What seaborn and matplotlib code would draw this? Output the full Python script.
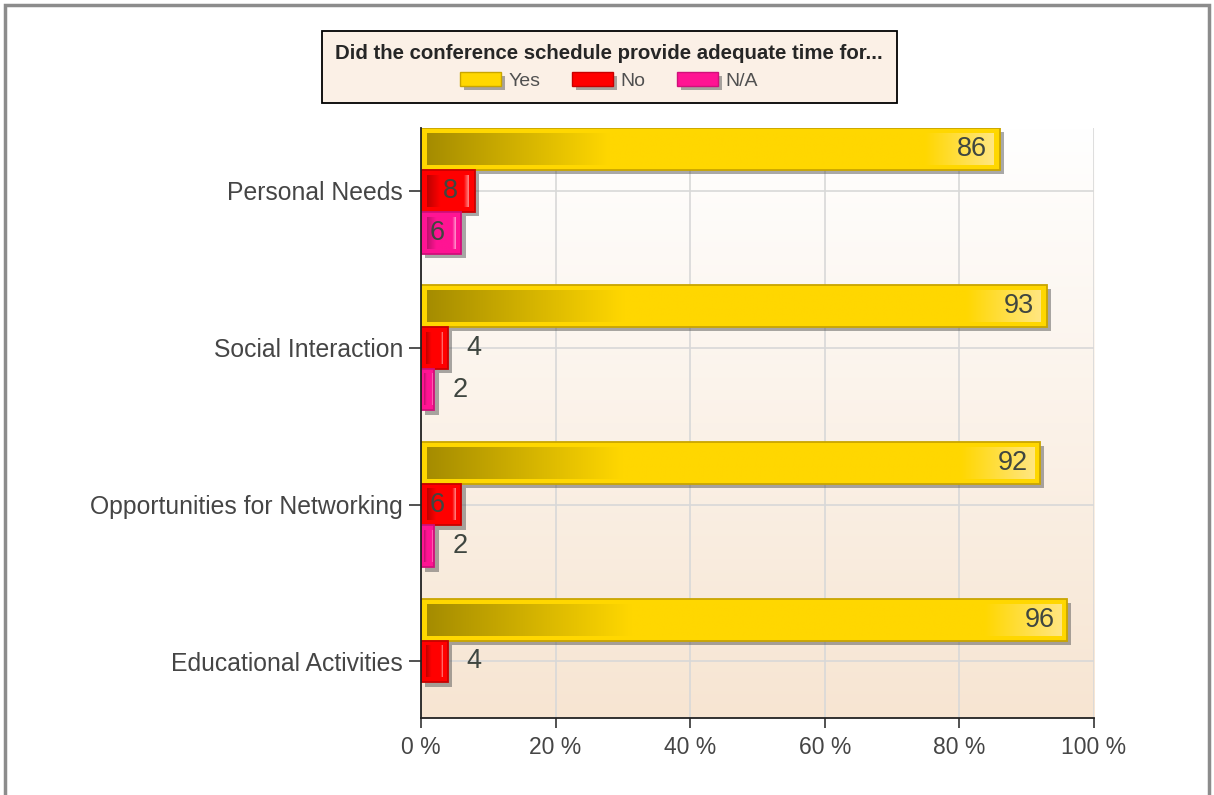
import numpy as np
import pandas as pd
import matplotlib
matplotlib.use("Agg")
import matplotlib.pyplot as plt
import seaborn as sns
from matplotlib import patheffects as pe
from matplotlib.colors import LinearSegmentedColormap
from matplotlib.patches import Rectangle

# ---- data ----
categories = ["Personal Needs", "Social Interaction",
              "Opportunities for Networking", "Educational Activities"]
responses = ["Yes", "No", "N/A"]
yes_values = [86, 93, 92, 96]
no_values = [8, 4, 6, 4]
na_values = [6, 2, 2, 0]
x_ticks = [0, 20, 40, 60, 80, 100]
x_tick_labels = ["0 %", "20 %", "40 %", "60 %", "80 %", "100 %"]
legend_title = "Did the conference schedule provide adequate time for..."

values = {"Yes": yes_values, "No": no_values, "N/A": na_values}
colors = {"Yes": "#FFD700", "No": "#FF0000", "N/A": "#FF1493"}
dark = {"Yes": "#A58C00", "No": "#BE0000", "N/A": "#C0106E"}
light = {"Yes": "#FFE680", "No": "#FF8A8A", "N/A": "#FF9AD0"}
edge = {"Yes": "#C9A500", "No": "#C80000", "N/A": "#D0107A"}

df = pd.DataFrame({
    "Category": categories * 3,
    "Response": ["Yes"] * 4 + ["No"] * 4 + ["N/A"] * 4,
    "Value": yes_values + no_values + na_values,
})

sns.set_theme(style="white")
plt.rcParams["font.family"] = ["Liberation Sans", "DejaVu Sans"]

fig = plt.figure(figsize=(12.14, 7.95), dpi=100)
fig.patch.set_facecolor("white")
ax = fig.add_axes([0.3468, 0.0969, 0.5544, 0.7421])

sns.barplot(data=df, y="Category", x="Value", hue="Response", order=categories,
            hue_order=responses, palette=colors, orient="h", errorbar=None,
            width=0.8, saturation=1, legend=False, ax=ax)

XLIM = (0, 100)
YLIM = (3.36, -0.4)
ax.set_xlim(*XLIM)
ax.set_ylim(*YLIM)

# plot background gradient
ax.set_facecolor("none")
bg_cmap = LinearSegmentedColormap.from_list("bg", ["#FFFFFF", "#F7E5D2"])
ax.imshow(np.linspace(0, 1, 256).reshape(-1, 1), aspect="auto", cmap=bg_cmap,
          extent=[0, 1, 0, 1], transform=ax.transAxes, zorder=0,
          interpolation="bilinear")
ax.set_xlim(*XLIM)
ax.set_ylim(*YLIM)

ax.set_axisbelow(True)
ax.grid(True, color="#D8D8D8", lw=1.2)
for s in ["top", "right"]:
    ax.spines[s].set_visible(False)
for s in ["left", "bottom"]:
    ax.spines[s].set_color("#222222")
    ax.spines[s].set_linewidth(1.3)

ax.set_xticks(x_ticks)
ax.set_xticklabels(x_tick_labels)
ax.set_xlabel("")
ax.set_ylabel("")
ax.tick_params(axis="y", left=True, length=9, width=1.2, color="#333333",
               pad=4, labelsize=17.8, labelcolor="#454545")
ax.tick_params(axis="x", bottom=True, length=7, width=1.2, color="#333333",
               pad=6, labelsize=16.5, labelcolor="#454545")

# bar styling: border, shadow, inner gradient, value labels
inv = ax.transData.inverted()
for container, resp in zip(ax.containers, responses):
    cmap = LinearSegmentedColormap.from_list(
        "g" + resp, [(0, dark[resp]), (0.32, colors[resp]),
                     (0.88, colors[resp]), (1, light[resp])])
    for bar, val in zip(container, values[resp]):
        if val <= 0:
            bar.set_visible(False)
            continue
        bar.set_edgecolor(edge[resp])
        bar.set_linewidth(1.3)
        bar.set_path_effects([pe.SimplePatchShadow(offset=(3, -3),
                                                   shadow_rgbFace="#555555",
                                                   alpha=0.5),
                              pe.Normal()])
        x0, y0 = bar.get_x(), bar.get_y()
        w, h = bar.get_width(), bar.get_height()
        (px0, py0), (px1, py1) = ax.transData.transform([(x0, y0), (x0 + w, y0 + h)])
        pw = abs(px1 - px0)
        ins = min(6.0, pw * 0.2)
        left, right = min(px0, px1) + ins, max(px0, px1) - ins
        bot, top = min(py0, py1) + 5, max(py0, py1) - 5
        (dx0, dy0), (dx1, dy1) = inv.transform([(left, bot), (right, top)])
        ax.imshow(np.linspace(0, 1, 256).reshape(1, -1), cmap=cmap, aspect="auto",
                  extent=[dx0, dx1, dy0, dy1], zorder=bar.get_zorder() + 0.1,
                  interpolation="bilinear")
        yc = y0 + h / 2
        end = x0 + w
        if val >= 6:
            off = -9 if val >= 10 else -12
            ax.annotate(f"{val}", (end, yc), xytext=(off, 0), textcoords="offset points",
                        ha="right", va="center", fontsize=19.5, color="#3F4640",
                        zorder=10)
        else:
            ax.annotate(f"{val}", (end, yc), xytext=(13, 0), textcoords="offset points",
                        ha="left", va="center", fontsize=19.5, color="#3F4640",
                        zorder=10)

ax.set_xlim(*XLIM)
ax.set_ylim(*YLIM)

# legend
handles = [Rectangle((0, 0), 1, 1, facecolor=colors[r], edgecolor=edge[r], lw=1)
           for r in responses]
leg = fig.legend(handles, responses, loc="center", bbox_to_anchor=(0.5017, 0.9157),
                 ncol=3, title=legend_title,
                 title_fontproperties={"weight": "bold", "size": 14.7},
                 fontsize=14, frameon=True, fancybox=False, edgecolor="black",
                 facecolor="#FBF0E6", framealpha=1, handlelength=2.1,
                 handleheight=0.75, handletextpad=0.4, columnspacing=1.6,
                 borderpad=0.7, labelspacing=0.45)
leg.get_frame().set_linewidth(1.3)
for t in leg.get_texts():
    t.set_color("#505050")
for hnd in leg.legend_handles:
    hnd.set_path_effects([pe.SimplePatchShadow(offset=(3, -3), shadow_rgbFace="#555555",
                                               alpha=0.5), pe.Normal()])

# outer frame
fig.add_artist(Rectangle((5 / 1214, -0.05), (1209 - 5) / 1214, 0.9937 + 0.05,
                         transform=fig.transFigure, fill=False,
                         edgecolor="#8C8C8C", lw=2.5))

fig.savefig("out.png", dpi=100)
